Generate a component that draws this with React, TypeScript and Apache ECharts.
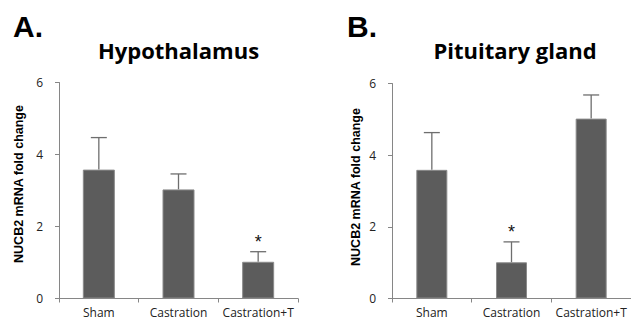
import React, { useEffect, useRef } from "react";
import * as echarts from "echarts";

const categories = ["Sham", "Castration", "Castration+T"];
const hypoMean = [3.58, 3.03, 1.02];
const hypoSd = [0.89, 0.43, 0.28];
const hypoSig = ["", "", "*"];
const pitMean = [3.59, 1.01, 5.02];
const pitSd = [1.04, 0.57, 0.66];
const pitSig = ["", "*", ""];
const yTicks = { min: 0, max: 6, interval: 2 };
const yName = "NUCB2 mRNA fold change";
const titles = ["Hypothalamus", "Pituitary gland"];
const panelLetters = ["A.", "B."];

const AXIS_COLOR = "#868686";
const BAR_COLOR = "#5c5c5c";
const ERR_COLOR = "#6e6e6e";

function errSeries(idx: number, mean: number[], sd: number[], sig: string[]) {
  return {
    type: "custom",
    xAxisIndex: idx,
    yAxisIndex: idx,
    silent: true,
    z: 1,
    encode: { x: 0, y: [1, 2] },
    data: mean.map((m, i) => [i, m, m + sd[i]]),
    renderItem: (params: any, api: any) => {
      const x = api.value(0);
      const base = api.coord([x, api.value(1)]);
      const top = api.coord([x, api.value(2)]);
      const cap = 8;
      const children: any[] = [
        {
          type: "line",
          shape: { x1: base[0], y1: base[1], x2: top[0], y2: top[1] },
          style: { stroke: ERR_COLOR, lineWidth: 1.3 },
        },
        {
          type: "line",
          shape: { x1: top[0] - cap, y1: top[1], x2: top[0] + cap, y2: top[1] },
          style: { stroke: ERR_COLOR, lineWidth: 1.3 },
        },
      ];
      const s = sig[params.dataIndex];
      if (s) {
        children.push({
          type: "text",
          x: top[0],
          y: top[1] - 1,
          style: {
            text: s,
            fill: "#111",
            font: "18px 'Liberation Sans', Arial, sans-serif",
            align: "center",
            verticalAlign: "bottom",
          },
        });
      }
      return { type: "group", children };
    },
  };
}

export default function App() {
  const ref = useRef<HTMLDivElement>(null);
  useEffect(() => {
    if (!ref.current) return;
    const chart = echarts.init(ref.current, null, { renderer: "svg" });
    const grids = [
      { left: 59, top: 82.5, width: 239, height: 216 },
      { left: 392, top: 83.5, width: 240, height: 215 },
    ];
    const xAxis = grids.map((_, i) => ({
      type: "category",
      gridIndex: i,
      data: categories,
      axisLine: { lineStyle: { color: AXIS_COLOR, width: 1 } },
      axisTick: { show: true, length: 4, lineStyle: { color: AXIS_COLOR } },
      axisLabel: {
        color: "#222",
        fontFamily: "Open Sans",
        fontSize: 12,
        lineHeight: 12,
        margin: 8,
        interval: 0,
      },
    }));
    const yAxis = grids.map((_, i) => ({
      type: "value",
      gridIndex: i,
      min: yTicks.min,
      max: yTicks.max,
      interval: yTicks.interval,
      splitLine: { show: false },
      axisLine: { show: true, lineStyle: { color: AXIS_COLOR, width: 1 } },
      axisTick: { show: true, length: 4, lineStyle: { color: AXIS_COLOR } },
      axisLabel: {
        color: "#222",
        fontFamily: "Open Sans",
        fontSize: 12,
        margin: 16,
      },
    }));
    const barStyle = { color: BAR_COLOR, borderColor: "#8a8a8a", borderWidth: 1 };
    chart.setOption({
      animation: false,
      grid: grids,
      xAxis,
      yAxis,
      graphic: [
        {
          type: "text",
          left: 13,
          top: 11,
          style: { text: panelLetters[0], font: "bold 30px 'Liberation Sans', Arial, sans-serif", fill: "#000" },
        },
        {
          type: "text",
          left: 347,
          top: 11,
          style: { text: panelLetters[1], font: "bold 30px 'Liberation Sans', Arial, sans-serif", fill: "#000" },
        },
        {
          type: "text",
          x: 178.5,
          y: 50,
          style: {
            text: titles[0],
            font: "bold 22px 'Open Sans', sans-serif",
            fill: "#000",
            align: "center",
            verticalAlign: "middle",
          },
        },
        {
          type: "text",
          x: 515,
          y: 50,
          style: {
            text: titles[1],
            font: "bold 22px 'Open Sans', sans-serif",
            fill: "#000",
            align: "center",
            verticalAlign: "middle",
          },
        },
        {
          type: "text",
          x: 19,
          y: 184,
          rotation: Math.PI / 2,
          style: {
            text: yName,
            font: "bold 12.5px 'Liberation Sans', Arial, sans-serif",
            fill: "#000",
            align: "center",
            verticalAlign: "middle",
          },
        },
        {
          type: "text",
          x: 356,
          y: 187,
          rotation: Math.PI / 2,
          style: {
            text: yName,
            font: "bold 12.5px 'Liberation Sans', Arial, sans-serif",
            fill: "#000",
            align: "center",
            verticalAlign: "middle",
          },
        },
      ],
      series: [
        {
          type: "bar",
          xAxisIndex: 0,
          yAxisIndex: 0,
          data: hypoMean,
          barWidth: 32,
          itemStyle: barStyle,
          z: 2,
        },
        errSeries(0, hypoMean, hypoSd, hypoSig),
        {
          type: "bar",
          xAxisIndex: 1,
          yAxisIndex: 1,
          data: pitMean,
          barWidth: 31,
          itemStyle: barStyle,
          z: 2,
        },
        errSeries(1, pitMean, pitSd, pitSig),
      ],
    });
    return () => chart.dispose();
  }, []);
  return (
    <div
      ref={ref}
      style={{ position: "absolute", left: 0, top: 0, width: 631, height: 322, background: "#fff" }}
    />
  );
}
